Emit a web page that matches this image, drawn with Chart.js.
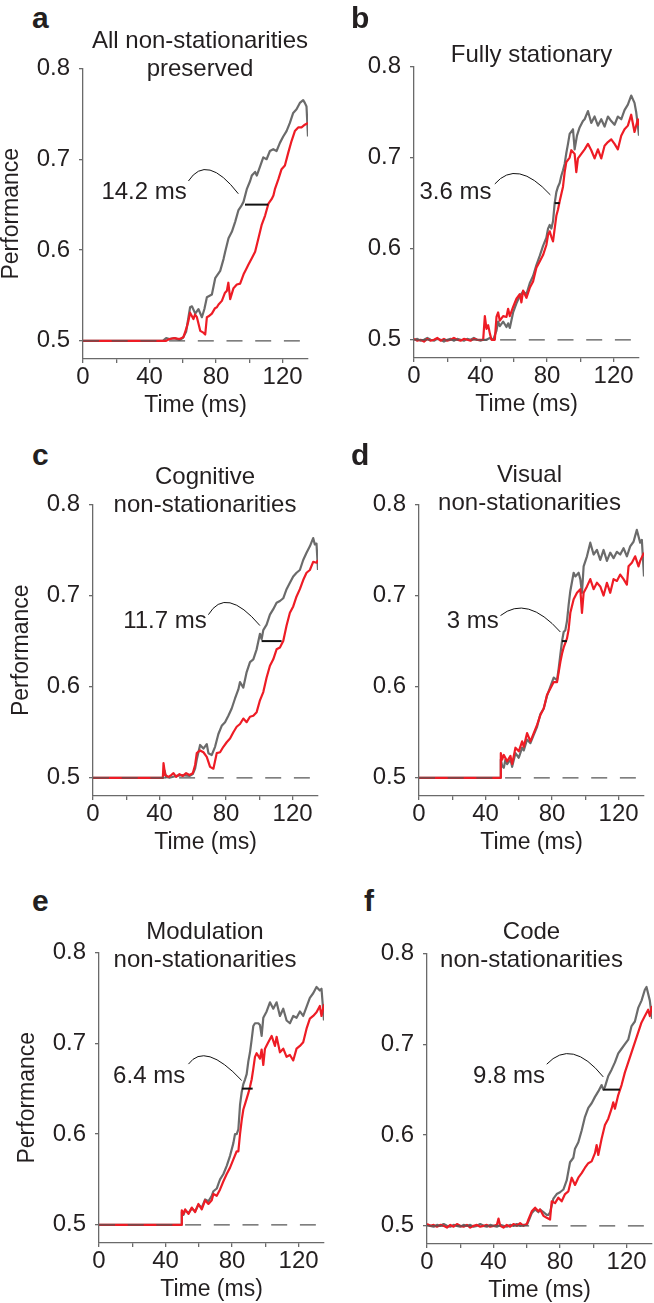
<!DOCTYPE html>
<html lang="en">
<head>
<meta charset="UTF-8">
<title>Performance over time, six conditions</title>
<script src="https://cdn.jsdelivr.net/npm/chart.js"></script>
<style>
  body { margin: 0; background: #fff; }
  #fig {
    position: relative;
    width: 654px;
    height: 1303px;
    overflow: hidden;
    font-family: "Liberation Sans", Arial, Helvetica, sans-serif;
    color: #231f20;
  }
  #fig canvas { position: absolute; }
  .letter {
    position: absolute;
    font-size: 30px;
    font-weight: bold;
    line-height: 30px;
    z-index: 2;
  }
  .title {
    position: absolute;
    width: 360px;
    text-align: center;
    font-size: 24px;
    line-height: 28px;
    z-index: 2;
  }
</style>
</head>
<body>
<div id="fig"></div>

<script>
// ---- data: [time (ms), performance] ----
const chanceLevel = 0.5;
const chanceEnd = 130.4;
const lagLevel = 0.65;

const xTicks = [0, 20, 40, 60, 80, 100, 120];
const xLabelled = [0, 40, 80, 120];
const yTicks = [0.5, 0.6, 0.7, 0.8];

const aGray = [[0,0.5],[48,0.5],[50,0.503],[52,0.502],[55,0.503],[58,0.501],[60,0.503],[62,0.51],[64.4,0.537],[65.5,0.538],[67.5,0.53],[69.4,0.535],[71.5,0.526],[73,0.535],[74.5,0.548],[77.5,0.551],[79.5,0.569],[82.5,0.577],[84.5,0.59],[85.5,0.598],[87.5,0.613],[89.5,0.62],[91.5,0.631],[93.5,0.644],[95,0.648],[96.5,0.653],[98.5,0.667],[100.5,0.676],[101.5,0.682],[103.5,0.686],[104.5,0.682],[106.5,0.692],[108.4,0.702],[110.4,0.7],[112.4,0.709],[114.4,0.711],[116.4,0.709],[118.4,0.718],[120.4,0.725],[122.4,0.731],[124.4,0.74],[126.4,0.751],[128.4,0.755],[130.4,0.762],[132.4,0.765],[133.4,0.762],[134.4,0.758],[135.3,0.725]];
const aRed = [[0,0.5],[50,0.5],[52,0.502],[55,0.503],[58,0.502],[60.4,0.504],[62.4,0.515],[63.4,0.522],[64.4,0.531],[66.4,0.524],[67.4,0.529],[68.5,0.526],[70.5,0.511],[72.4,0.509],[73.5,0.507],[74.5,0.526],[75.5,0.527],[77.5,0.53],[79.4,0.536],[80.5,0.537],[81.5,0.54],[83.5,0.544],[85.4,0.553],[86.5,0.555],[87.4,0.564],[88.5,0.546],[90.5,0.558],[92.5,0.562],[94.5,0.563],[96.5,0.573],[98.4,0.58],[99.5,0.584],[101.5,0.591],[103.5,0.598],[105.5,0.613],[107.5,0.628],[109.5,0.638],[111.5,0.651],[113.4,0.656],[114.5,0.66],[115.4,0.667],[117.5,0.678],[119.4,0.689],[121.4,0.693],[123.4,0.707],[125.4,0.72],[127.4,0.731],[129.4,0.735],[131.4,0.735],[133.4,0.738],[135.3,0.74]];

const bGray = [[0,0.5],[2,0.501],[4,0.499],[6,0.5],[8,0.502],[10,0.5],[12,0.499],[14,0.501],[16,0.5],[18,0.498],[20,0.5],[22,0.501],[24,0.499],[26,0.501],[28,0.5],[30,0.499],[32,0.501],[34,0.5],[36,0.502],[38,0.5],[40,0.499],[41.6,0.5],[43.6,0.5],[45.6,0.502],[47.6,0.5],[49.6,0.51],[50.6,0.52],[51.6,0.515],[53.6,0.52],[55.6,0.514],[56.6,0.518],[57.6,0.513],[59.6,0.53],[61.6,0.54],[63.6,0.548],[65.6,0.553],[67.6,0.55],[69.6,0.562],[71.6,0.57],[73.6,0.582],[75.6,0.592],[77.6,0.603],[79.6,0.612],[80.6,0.622],[81.6,0.626],[82.6,0.622],[83.6,0.63],[84.6,0.65],[85.6,0.662],[86.6,0.668],[87.6,0.672],[88.6,0.68],[89.6,0.686],[90.6,0.693],[91.6,0.705],[92.6,0.715],[93.6,0.726],[95.6,0.731],[96.6,0.709],[98,0.724],[99.6,0.733],[101.6,0.74],[102.6,0.742],[104.6,0.751],[106.6,0.738],[108.6,0.745],[110.6,0.735],[112.6,0.742],[114.6,0.734],[116.6,0.745],[118.6,0.74],[120.6,0.736],[122.6,0.745],[124.6,0.742],[126.6,0.752],[128.6,0.758],[130.6,0.768],[132.6,0.76],[133.6,0.75],[135.3,0.724]];
const bRed = [[0,0.501],[2,0.499],[4,0.5],[6,0.498],[8,0.501],[10,0.499],[12,0.5],[14,0.502],[16,0.499],[18,0.501],[20,0.499],[22,0.5],[24,0.502],[26,0.5],[28,0.499],[30,0.501],[32,0.5],[34,0.499],[36,0.501],[38,0.5],[40,0.5],[41.6,0.5],[42.6,0.526],[43.6,0.512],[44.6,0.516],[45.6,0.507],[46.6,0.5],[48.6,0.5],[49.6,0.525],[50.6,0.53],[51.6,0.521],[53.6,0.526],[55.6,0.525],[56.6,0.534],[57.6,0.526],[59.6,0.536],[61.6,0.545],[63.6,0.55],[64.6,0.541],[65.6,0.554],[67.6,0.546],[69.6,0.557],[71.6,0.564],[73.6,0.579],[75.6,0.586],[77.6,0.593],[79.6,0.604],[80.6,0.615],[81.6,0.619],[82.6,0.613],[83.6,0.608],[84.6,0.622],[85.6,0.636],[86.6,0.643],[87.6,0.652],[88.6,0.66],[89.6,0.668],[90.6,0.684],[91.6,0.695],[93.6,0.7],[94.6,0.708],[96.6,0.704],[97.6,0.684],[98.6,0.699],[100.6,0.704],[102.6,0.709],[104.6,0.715],[106.6,0.708],[108.6,0.699],[110.6,0.709],[112.6,0.699],[114.6,0.713],[116.6,0.717],[118.6,0.72],[120.6,0.715],[122.6,0.709],[124.6,0.724],[126.6,0.731],[128.6,0.735],[130.6,0.747],[132.6,0.728],[134.6,0.742],[135.3,0.735]];

const cGray = [[0,0.5],[42,0.5],[43,0.508],[44,0.501],[46,0.5],[50,0.502],[54,0.503],[58,0.502],[60,0.504],[61.4,0.51],[62.4,0.52],[64.4,0.536],[66.4,0.532],[68.4,0.537],[69.4,0.527],[71.4,0.525],[73.4,0.534],[75.4,0.548],[77.4,0.557],[79.4,0.561],[81.4,0.568],[83.4,0.576],[85.4,0.587],[87.4,0.597],[88.4,0.605],[90.4,0.599],[92.4,0.616],[94.4,0.627],[96.4,0.63],[98.4,0.641],[100.4,0.658],[101.4,0.652],[102.4,0.662],[104.4,0.668],[106.4,0.679],[108.4,0.685],[110.4,0.692],[112.4,0.694],[114.4,0.697],[116.4,0.707],[118.4,0.714],[120.4,0.721],[122.4,0.725],[124.4,0.728],[126.4,0.739],[128.4,0.747],[130.4,0.754],[132.4,0.763],[133.4,0.756],[134.4,0.757],[135.3,0.728]];
const cRed = [[0,0.5],[42,0.5],[42.4,0.516],[43.4,0.503],[45.4,0.501],[47,0.503],[48.4,0.505],[50,0.501],[52,0.504],[54,0.502],[56,0.505],[58,0.503],[60,0.505],[61.4,0.514],[62.4,0.527],[64.4,0.53],[66.4,0.528],[68.4,0.523],[70.4,0.512],[72.4,0.51],[74.4,0.527],[76.4,0.528],[78.4,0.534],[80.4,0.539],[82.4,0.543],[84.4,0.55],[86.4,0.556],[88.4,0.559],[90.4,0.565],[92.4,0.561],[94.4,0.567],[96.4,0.568],[98.4,0.572],[100.4,0.585],[102.4,0.594],[104.4,0.61],[106.4,0.623],[108.4,0.63],[110.4,0.641],[112.4,0.643],[114.4,0.65],[116.4,0.667],[118.4,0.681],[120.4,0.688],[122.4,0.699],[124.4,0.707],[126.4,0.717],[128.4,0.725],[130.4,0.728],[132.4,0.737],[134.4,0.736],[135.3,0.739]];

const dGray = [[0,0.5],[49,0.5],[49.2,0.52],[50,0.513],[51,0.511],[52,0.52],[53,0.515],[55,0.52],[56,0.512],[58,0.527],[60,0.522],[62,0.533],[63,0.53],[65,0.542],[67,0.538],[69,0.547],[71,0.556],[73,0.57],[75,0.576],[77,0.59],[79,0.6],[81,0.61],[83,0.607],[84,0.62],[85,0.635],[86,0.65],[87,0.66],[88,0.662],[89,0.672],[90,0.69],[91,0.705],[93,0.725],[94,0.721],[96,0.725],[97,0.718],[98,0.703],[99,0.732],[101,0.743],[103,0.758],[105,0.745],[107,0.75],[109,0.739],[111,0.75],[113,0.738],[115,0.747],[117,0.741],[119,0.748],[121,0.745],[123,0.752],[125,0.743],[127,0.754],[129,0.759],[131,0.772],[133,0.758],[134,0.761],[135.3,0.721]];
const dRed = [[0,0.5],[49,0.5],[49.2,0.527],[50,0.52],[51,0.525],[53,0.518],[55,0.524],[56,0.515],[58,0.533],[60,0.529],[62,0.54],[63,0.534],[65,0.549],[67,0.54],[69,0.549],[71,0.558],[73,0.569],[75,0.576],[77,0.591],[79,0.598],[81,0.605],[83,0.605],[84,0.616],[85,0.627],[86,0.636],[87,0.643],[88,0.648],[89,0.653],[90,0.663],[91,0.681],[93,0.696],[95,0.703],[97,0.707],[98,0.681],[99,0.703],[101,0.71],[103,0.718],[105,0.707],[107,0.714],[109,0.71],[111,0.7],[113,0.714],[115,0.703],[117,0.718],[119,0.716],[121,0.723],[123,0.718],[125,0.712],[126,0.732],[128,0.736],[130,0.743],[132,0.732],[133,0.738],[135.3,0.747]];

const eGray = [[0,0.5],[49.5,0.5],[49.8,0.514],[50.8,0.511],[51.8,0.516],[53.8,0.513],[55.8,0.518],[57.8,0.515],[59.8,0.522],[61.8,0.519],[63.8,0.528],[65.8,0.526],[67.8,0.532],[68.8,0.537],[70.8,0.54],[71.8,0.545],[72.8,0.55],[74.8,0.556],[76.8,0.565],[78.8,0.576],[80.8,0.59],[81.8,0.6],[82.8,0.6],[83.8,0.605],[84.8,0.632],[85.8,0.646],[86.8,0.655],[87.8,0.66],[88.8,0.666],[89.8,0.68],[90.8,0.69],[91.8,0.704],[92.8,0.719],[93.8,0.722],[95.8,0.722],[96.8,0.72],[97.8,0.708],[98.8,0.728],[100.8,0.735],[102.8,0.745],[104.8,0.738],[106.8,0.745],[108.8,0.73],[110.8,0.738],[112.8,0.725],[114.8,0.722],[116.8,0.73],[118.8,0.728],[120.8,0.735],[122.8,0.73],[124.8,0.74],[126.8,0.75],[128.8,0.755],[130.8,0.762],[132.8,0.758],[133.8,0.76],[135.3,0.725]];
const eRed = [[0,0.5],[49.5,0.5],[49.8,0.516],[50.8,0.512],[51.8,0.517],[53.8,0.512],[55.8,0.519],[57.8,0.514],[59.8,0.523],[61.8,0.517],[63.8,0.527],[65.8,0.523],[67.8,0.527],[68.8,0.534],[70.8,0.532],[72.8,0.539],[74.8,0.548],[76.8,0.556],[78.8,0.563],[80.8,0.572],[82.8,0.581],[83.8,0.581],[84.8,0.6],[85.8,0.615],[86.8,0.627],[87.8,0.633],[88.8,0.639],[89.8,0.645],[90.8,0.652],[91.8,0.66],[92.8,0.672],[93.8,0.685],[94.8,0.689],[96.8,0.683],[97.8,0.693],[98.8,0.676],[99.8,0.694],[101.8,0.701],[103.8,0.708],[105.8,0.697],[106.8,0.707],[108.8,0.69],[110.8,0.694],[112.8,0.685],[114.8,0.687],[116.8,0.681],[118.8,0.694],[120.8,0.697],[122.8,0.701],[124.8,0.716],[126.8,0.727],[128.8,0.73],[130.8,0.734],[132.8,0.741],[133.8,0.73],[135.3,0.743]];

const fGray = [[0,0.501],[2,0.5],[4,0.499],[6,0.501],[8,0.5],[10,0.502],[12,0.5],[14,0.499],[16,0.501],[18,0.5],[20,0.499],[22,0.501],[24,0.5],[26,0.501],[28,0.499],[30,0.5],[32,0.502],[34,0.5],[36,0.499],[38,0.501],[40,0.5],[42,0.499],[44,0.501],[46,0.5],[48,0.499],[50,0.501],[52,0.5],[54,0.502],[56,0.5],[58,0.501],[60,0.501],[61,0.505],[63,0.514],[65,0.518],[67,0.515],[68,0.518],[70,0.515],[72,0.512],[73,0.512],[74,0.515],[76,0.53],[78,0.535],[80,0.537],[82,0.54],[84,0.55],[86,0.57],[88,0.575],[89,0.585],[91,0.592],[93,0.605],[95,0.62],[97,0.63],[99,0.635],[101,0.642],[103,0.648],[105,0.655],[106,0.65],[107,0.653],[109,0.665],[111,0.672],[113,0.68],[115,0.69],[117,0.695],[119,0.7],[121,0.705],[123,0.72],[125,0.725],[127,0.74],[129,0.748],[131,0.76],[132,0.763],[134,0.748],[135.3,0.728]];
const fRed = [[0,0.502],[2,0.5],[4,0.501],[6,0.499],[8,0.501],[10,0.5],[12,0.498],[14,0.501],[16,0.499],[18,0.502],[20,0.5],[22,0.499],[24,0.501],[26,0.498],[28,0.5],[30,0.501],[32,0.499],[34,0.5],[36,0.501],[38,0.499],[40,0.5],[42,0.501],[43,0.508],[44,0.5],[46,0.498],[48,0.501],[50,0.499],[52,0.502],[54,0.5],[56,0.503],[58,0.5],[60,0.502],[61,0.507],[63,0.516],[65,0.52],[67,0.516],[68,0.518],[70,0.511],[72,0.509],[74,0.507],[75,0.527],[77,0.525],[79,0.531],[81,0.527],[83,0.535],[85,0.538],[87,0.553],[89,0.545],[91,0.553],[93,0.558],[95,0.564],[97,0.569],[99,0.571],[101,0.58],[102,0.589],[103,0.578],[105,0.596],[107,0.611],[109,0.618],[111,0.629],[112,0.636],[113,0.629],[115,0.644],[117,0.655],[119,0.669],[121,0.68],[123,0.691],[125,0.702],[127,0.713],[129,0.724],[131,0.731],[133,0.738],[134,0.731],[135.3,0.742]];

// lag between the two curves at the 0.65 level: [gray crossing, red crossing]
const aLag = [97.4, 111.4];
const bLag = [84.6, 87.6];
const cLag = [101.4, 113.4];
const dLag = [86, 89];
const eLag = [86, 92.4];
const fLag = [106, 116];
const lagLabels = ['14.2 ms', '3.6 ms', '11.7 ms', '3 ms', '6.4 ms', '9.8 ms'];

const panelLetters = ['a', 'b', 'c', 'd', 'e', 'f'];
const panelTitles = [
  ['All non-stationarities', 'preserved'],
  ['Fully stationary'],
  ['Cognitive', 'non-stationarities'],
  ['Visual', 'non-stationarities'],
  ['Modulation', 'non-stationarities'],
  ['Code', 'non-stationarities']
];

// ---- layout (pixels) and note placement (data units) ----
const panels = [
  { gray: aGray, red: aRed, lag: aLag, axisX: 83, axisTop: 65, plotH: 294, yTitle: true,
    letter: [32, 3], title: [200, 26],
    note: { at: [62.4, 0.664], arc: [[63.4, 0.676], [76.4, 0.688], [93.4, 0.662]] } },
  { gray: bGray, red: bRed, lag: bLag, axisX: 414, axisTop: 63, plotH: 295, yTitle: false,
    letter: [351, 3], title: [531.5, 40],
    note: { at: [46.6, 0.662], arc: [[48.6, 0.671], [63.6, 0.682], [82, 0.659]] } },
  { gray: cGray, red: cRed, lag: cLag, axisX: 93, axisTop: 501, plotH: 295, yTitle: true,
    letter: [32, 440], title: [205, 462],
    note: { at: [68.4, 0.672], arc: [[69.4, 0.679], [82.4, 0.692], [100.4, 0.667]] } },
  { gray: dGray, red: dRed, lag: dLag, axisX: 419, axisTop: 501, plotH: 295, yTitle: false,
    letter: [351, 440], title: [529.5, 460],
    note: { at: [48, 0.672], arc: [[49, 0.678], [66, 0.685], [85, 0.66]] } },
  { gray: eGray, red: eRed, lag: eLag, axisX: 99, axisTop: 949, plotH: 294, yTitle: true,
    letter: [32, 886], title: [205, 917],
    note: { at: [51.8, 0.664], arc: [[53.8, 0.677], [66.8, 0.685], [85.8, 0.659]] } },
  { gray: fGray, red: fRed, lag: fLag, axisX: 427, axisTop: 950, plotH: 294, yTitle: false,
    letter: [364, 886], title: [531.5, 917],
    note: { at: [71, 0.665], arc: [[72, 0.678], [88, 0.689], [106, 0.664]] } }
];

const FONT = '"Liberation Sans", Arial, Helvetica, sans-serif';
const axisGray = '#6a6a6a';
const ink = '#231f20';
Chart.defaults.font.family = FONT;
Chart.defaults.color = ink;

const yAxisW = 83, xAxisH = 58, padTop = 20, padRight = 2, plotW = 225;

// draws the lag bar, the curved pointer and its label
const lagNote = {
  id: 'lagNote',
  afterDatasetsDraw(chart, args, o) {
    if (!o || !o.bar) return;
    const xs = chart.scales.x, ys = chart.scales.y, c = chart.ctx;
    const px = v => xs.getPixelForValue(v);
    const py = v => ys.getPixelForValue(v);
    c.save();
    c.strokeStyle = '#111';
    c.lineWidth = 2;
    c.beginPath();
    c.moveTo(px(o.bar[0]), py(o.level));
    c.lineTo(px(o.bar[1]), py(o.level));
    c.stroke();

    const p = o.arc.map(q => [px(q[0]), py(q[1])]);
    const cx = 2 * p[1][0] - (p[0][0] + p[2][0]) / 2;
    const cy = 2 * p[1][1] - (p[0][1] + p[2][1]) / 2;
    c.lineWidth = 1;
    c.beginPath();
    c.moveTo(p[0][0], p[0][1]);
    c.quadraticCurveTo(cx, cy, p[2][0], p[2][1]);
    c.stroke();

    c.font = '24px ' + FONT;
    c.fillStyle = ink;
    c.textAlign = 'right';
    c.textBaseline = 'middle';
    c.fillText(o.text, px(o.at[0]), py(o.at[1]));
    c.restore();
  }
};

const fig = document.getElementById('fig');
const toXY = s => s.map(d => ({ x: d[0], y: d[1] }));

panels.forEach((p, i) => {
  const lt = document.createElement('div');
  lt.className = 'letter';
  lt.style.left = p.letter[0] + 'px';
  lt.style.top = p.letter[1] + 'px';
  lt.textContent = panelLetters[i];
  fig.appendChild(lt);

  const tt = document.createElement('div');
  tt.className = 'title';
  tt.style.left = (p.title[0] - 180) + 'px';
  tt.style.top = p.title[1] + 'px';
  tt.innerHTML = panelTitles[i].join('<br>');
  fig.appendChild(tt);

  const cv = document.createElement('canvas');
  cv.width = yAxisW + plotW + padRight;
  cv.height = padTop + p.plotH + xAxisH;
  cv.style.left = (p.axisX - yAxisW) + 'px';
  cv.style.top = (p.axisTop - padTop) + 'px';
  fig.appendChild(cv);

  new Chart(cv, {
    type: 'line',
    data: {
      datasets: [
        {
          data: [{ x: 0, y: chanceLevel }, { x: chanceEnd, y: chanceLevel }],
          borderColor: '#555',
          borderWidth: 1.3,
          borderDash: [16, 12.7],
          order: 0
        },
        { data: toXY(p.red), borderColor: '#ee1c25', borderWidth: 2.2, order: 1 },
        { data: toXY(p.gray), borderColor: '#6b6b6b', borderWidth: 2.2, order: 2 }
      ]
    },
    options: {
      responsive: false,
      devicePixelRatio: 1,
      animation: false,
      layout: { padding: { top: padTop, right: padRight, left: 0, bottom: 0 } },
      elements: {
        point: { radius: 0 },
        line: { tension: 0, borderJoinStyle: 'round', borderCapStyle: 'butt' }
      },
      plugins: {
        legend: { display: false },
        tooltip: { enabled: false },
        lagNote: {
          bar: p.lag, level: lagLevel, text: lagLabels[i],
          at: p.note.at, arc: p.note.arc
        }
      },
      scales: {
        x: {
          type: 'linear',
          min: 0,
          max: 135.3,
          afterBuildTicks: s => { s.ticks = xTicks.map(v => ({ value: v })); },
          afterFit: s => { s.height = xAxisH; },
          grid: { drawOnChartArea: false, drawTicks: true, tickLength: 4, color: axisGray, lineWidth: 1.3 },
          border: { display: true, color: axisGray, width: 1.3 },
          ticks: {
            autoSkip: false, maxRotation: 0, padding: 0,
            font: { size: 24 }, color: ink,
            callback: v => xLabelled.includes(v) ? String(v) : ''
          },
          title: {
            display: true, text: 'Time (ms)', color: ink,
            font: { size: 23, lineHeight: 1 }, padding: 0
          }
        },
        y: {
          type: 'linear',
          min: 0.48,
          max: 0.8,
          afterBuildTicks: s => { s.ticks = yTicks.map(v => ({ value: v })); },
          afterFit: s => { s.width = yAxisW; },
          grid: { drawOnChartArea: false, drawTicks: true, tickLength: 4, color: axisGray, lineWidth: 1.3 },
          border: { display: true, color: axisGray, width: 1.3 },
          ticks: {
            padding: 9, font: { size: 24 }, color: ink,
            callback: v => Number(v).toFixed(1)
          },
          title: {
            display: p.yTitle, text: 'Performance', color: ink,
            font: { size: 23, lineHeight: 1 }, padding: 0
          }
        }
      }
    },
    plugins: [lagNote]
  });
});
</script>
</body>
</html>
